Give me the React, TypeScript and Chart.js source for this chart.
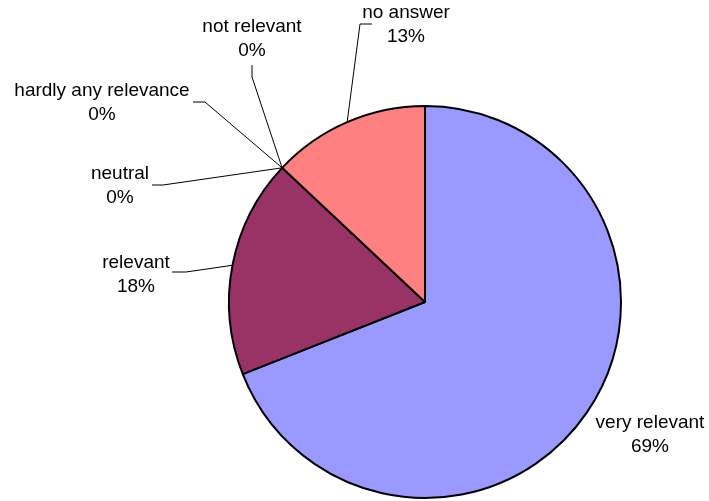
import React, { useEffect, useRef } from "react";
import { Chart, registerables } from "chart.js";

Chart.register(...registerables);

const categories = ["very relevant", "relevant", "neutral", "hardly any relevance", "not relevant", "no answer"];
const values = [69, 18, 0, 0, 0, 13];
const percentLabels = ["69%", "18%", "0%", "0%", "0%", "13%"];
const colors = ["#9999FF", "#993366", "#FFFFCC", "#CCFFFF", "#660066", "#FF8080"];

// Label layout relative to pie centre (px): elbow point, line end, text centre x, first line y
const labelLayout = [
  { leader: false, elbow: [0, 0], end: [0, 0], tx: 225, ty: 121 },
  { leader: true, elbow: [-239, -30], end: [-253, -30], tx: -289, ty: -39 },
  { leader: true, elbow: [-262, -117], end: [-273, -117], tx: -305, ty: -128 },
  { leader: true, elbow: [-220, -200], end: [-232, -200], tx: -323, ty: -211 },
  { leader: true, elbow: [-173, -225], end: [-173, -237], tx: -173, ty: -275 },
  { leader: true, elbow: [-65, -278], end: [-53, -278], tx: -19, ty: -289 },
];

const labelPlugin = {
  id: "pieLabels",
  afterDraw(chart: any) {
    const ctx = chart.ctx;
    const meta = chart.getDatasetMeta(0);
    ctx.save();
    ctx.font = "19px 'Liberation Sans', Arial, sans-serif";
    ctx.fillStyle = "#000";
    ctx.strokeStyle = "#000";
    ctx.lineWidth = 1;
    ctx.textAlign = "center";
    ctx.textBaseline = "middle";
    meta.data.forEach((arc: any, i: number) => {
      const p = arc.getProps(["x", "y", "startAngle", "endAngle", "outerRadius"], true);
      const cx = p.x;
      const cy = p.y;
      const mid = (p.startAngle + p.endAngle) / 2;
      const ax = cx + Math.cos(mid) * p.outerRadius;
      const ay = cy + Math.sin(mid) * p.outerRadius;
      const L = labelLayout[i];
      if (L.leader) {
        ctx.beginPath();
        ctx.moveTo(ax, ay);
        ctx.lineTo(cx + L.elbow[0], cy + L.elbow[1]);
        ctx.lineTo(cx + L.end[0], cy + L.end[1]);
        ctx.stroke();
      }
      ctx.fillText(categories[i], cx + L.tx, cy + L.ty);
      ctx.fillText(percentLabels[i], cx + L.tx, cy + L.ty + 24);
    });
    ctx.restore();
  },
};

export default function App() {
  const ref = useRef<HTMLCanvasElement | null>(null);
  useEffect(() => {
    if (!ref.current) return;
    const chart = new Chart(ref.current, {
      type: "pie",
      data: {
        labels: categories,
        datasets: [
          {
            data: values,
            backgroundColor: colors,
            borderColor: "#000000",
            borderWidth: 2,
            borderAlign: "center",
          },
        ],
      },
      options: {
        responsive: false,
        animation: false,
        devicePixelRatio: 1,
        layout: { padding: { left: 228, right: 87, top: 105, bottom: 2 } },
        plugins: {
          legend: { display: false },
          tooltip: { enabled: false },
        },
      },
      plugins: [labelPlugin],
    });
    return () => chart.destroy();
  }, []);
  return (
    <div style={{ position: "absolute", left: 0, top: 0, width: 709, height: 501, background: "#fff" }}>
      <canvas ref={ref} width={709} height={501} />
    </div>
  );
}
